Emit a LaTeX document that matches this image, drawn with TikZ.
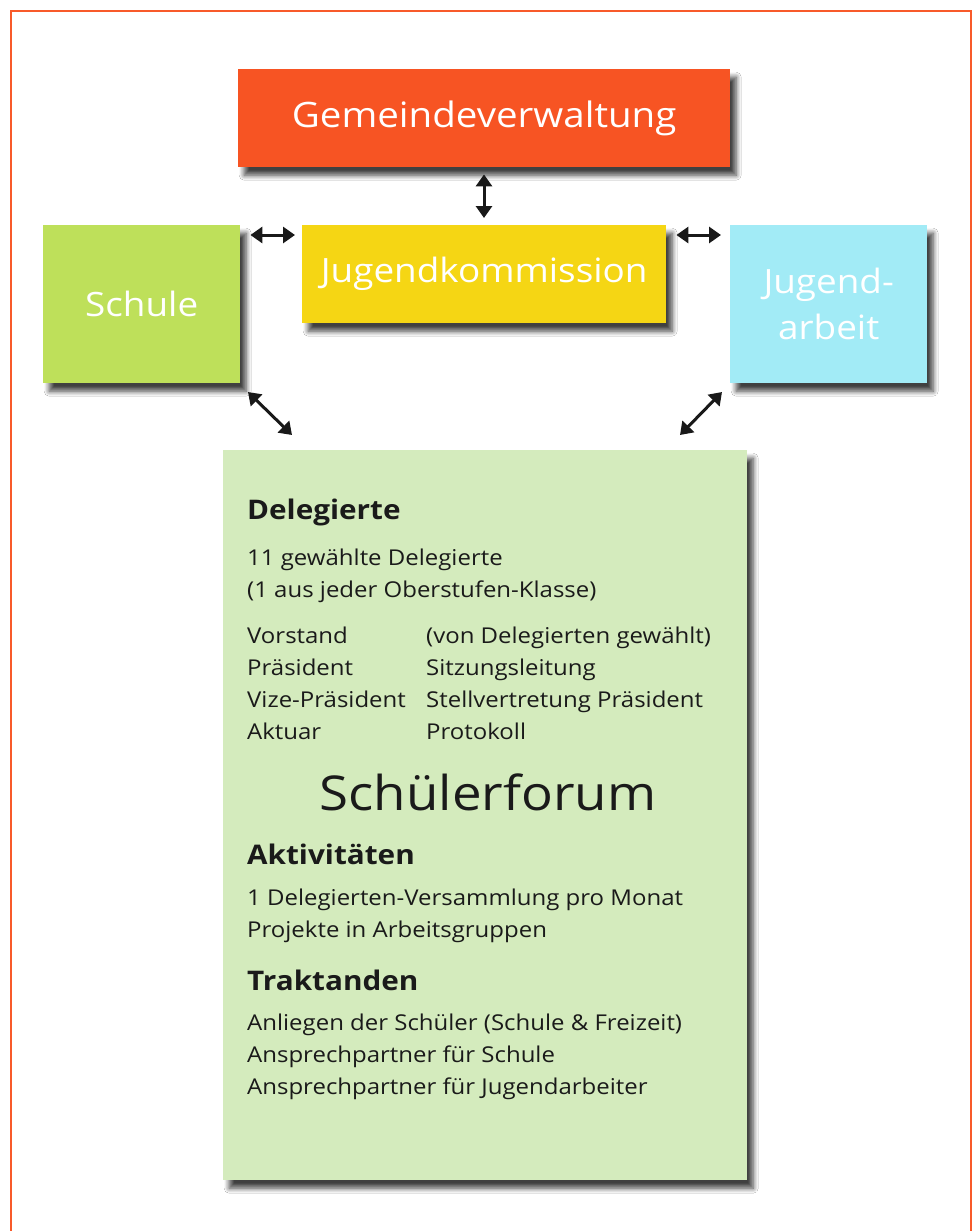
\documentclass[tikz,border=0pt]{standalone}
\usepackage{fontspec}
\setmainfont[FakeStretch=1.1]{Open Sans}
\usetikzlibrary{arrows.meta,shadows.blur}
\definecolor{borderC}{HTML}{F85A2A}
\definecolor{gemC}{HTML}{F75423}
\definecolor{jkC}{HTML}{F5D614}
\definecolor{schC}{HTML}{BEE05A}
\definecolor{jaC}{HTML}{A2EBF6}
\definecolor{mainC}{HTML}{D4EBBD}
\definecolor{txtC}{HTML}{1A1A1A}
\tikzset{
  box/.style={anchor=north west, inner sep=0pt, text=white, align=center,
    blur shadow={shadow xshift=6bp, shadow yshift=-8bp, shadow blur steps=8, shadow blur radius=5bp, shadow opacity=75}},
  dbl/.style={{Triangle[length=12bp,width=16bp]}-{Triangle[length=12bp,width=16bp]}, line width=3bp, black!90},
  body/.style={anchor=base west, inner sep=0pt, text=txtC, font=\fontsize{21.8bp}{26bp}\selectfont},
  head/.style={anchor=base west, inner sep=0pt, text=txtC, font=\fontsize{27bp}{32bp}\selectfont\bfseries},
}
\begin{document}
\begin{tikzpicture}[x=1bp,y=-1bp]
\useasboundingbox (0,0) rectangle (978,1231);
\fill[white] (0,0) rectangle (978,1231);
\draw[borderC, line width=2.5bp] (11,1240) -- (11,11) -- (971,11) -- (971,1240);

\node[box, fill=gemC, minimum width=492bp, minimum height=98bp, font=\fontsize{35bp}{40bp}\selectfont] (gem) at (238,69) {\raisebox{-2bp}{Gemeindeverwaltung}};
\node[box, fill=jkC, minimum width=364bp, minimum height=98bp, font=\fontsize{33.5bp}{40bp}\selectfont] (jk) at (302,225) {\raisebox{3bp}{Jugendkommission}};
\node[box, fill=schC, minimum width=197bp, minimum height=158bp, font=\fontsize{33.5bp}{40bp}\selectfont] (sch) at (43,225) {Schule};
\node[box, fill=jaC, minimum width=197bp, minimum height=158bp, font=\fontsize{33.5bp}{46bp}\selectfont] (ja) at (730,225) {\raisebox{13bp}{\parbox{190bp}{\centering Jugend-\\arbeit}}};
\node[box, fill=mainC, minimum width=524bp, minimum height=730bp] (main) at (223,450) {};

\draw[dbl, shorten <=7bp, shorten >=7bp] (gem.south -| 484,0) -- (jk.north -| 484,0);
\draw[dbl, shorten <=10bp, shorten >=7bp] ([yshift=-10bp]sch.north east) -- ([yshift=-10bp]jk.north west);
\draw[dbl, shorten <=10bp, shorten >=9bp] ([yshift=-10bp]jk.north east) -- ([yshift=-10bp]ja.north west);
\coordinate (dl1) at (248,392);
\coordinate (dl2) at (292,435);
\coordinate (dr1) at (722,392);
\coordinate (dr2) at (680,435);
\draw[dbl] (dl1) -- (dl2);
\draw[dbl] (dr1) -- (dr2);

\node[head] (h1) at (247,519) {Delegierte};
\node[body] (t1) at (247,565) {11 gewählte Delegierte};
\node[body] (t2) at (247,597) {(1 aus jeder Oberstufen-Klasse)};
\node[body] (v1) at (247,643) {Vorstand};
\node[body] (v2) at (247,675) {Präsident};
\node[body] (v3) at (247,707) {Vize-Präsident};
\node[body] (v4) at (247,739) {Aktuar};
\node[body] (w1) at (426,643) {(von Delegierten gewählt)};
\node[body] (w2) at (426,675) {Sitzungsleitung};
\node[body] (w3) at (426,707) {Stellvertretung Präsident};
\node[body] (w4) at (426,739) {Protokoll};
\node[anchor=base, inner sep=0pt, text=txtC, font=\fontsize{48bp}{56bp}\selectfont] (sf) at (488,810) {Schülerforum};
\node[head] (h2) at (247,864) {Aktivitäten};
\node[body] (a1) at (247,905) {1 Delegierten-Versammlung pro Monat};
\node[body] (a2) at (247,937) {Projekte in Arbeitsgruppen};
\node[head] (h3) at (247,990) {Traktanden};
\node[body] (k1) at (247,1030) {Anliegen der Schüler (Schule \& Freizeit)};
\node[body] (k2) at (247,1062) {Ansprechpartner für Schule};
\node[body] (k3) at (247,1094) {Ansprechpartner für Jugendarbeiter};
\end{tikzpicture}
\end{document}
